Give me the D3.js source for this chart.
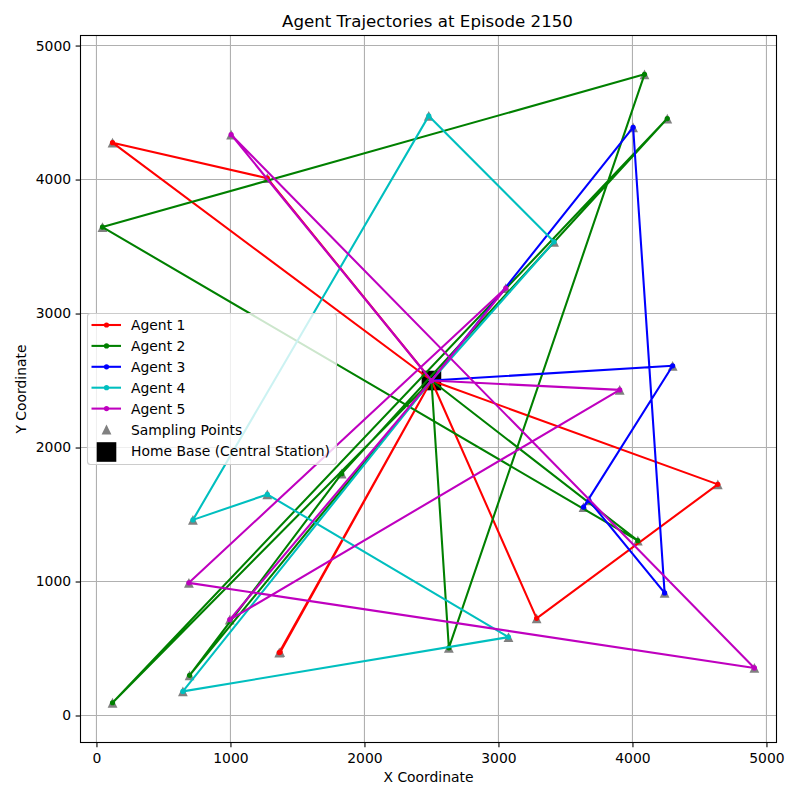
<!DOCTYPE html>
<html>
<head>
<meta charset="utf-8">
<script src="https://cdn.jsdelivr.net/npm/d3@7"></script>
<style>
  html, body { margin: 0; padding: 0; background: #fff; }
  text { font-family: "DejaVu Sans", sans-serif; fill: #000; }
</style>
</head>
<body>
<div id="chart"></div>
<script>
const home = [2500, 2500];
const agentNames = ['Agent 1', 'Agent 2', 'Agent 3', 'Agent 4', 'Agent 5'];
const agentColors = ['#ff0000', '#008000', '#0000ff', '#00bfbf', '#bf00bf'];

const agent1 = [home, [1364, 470], [1371, 473], home, [120, 4275], [1275, 4010], home, [4637, 1725], [3285, 725], home];
const agent2 = [home, [2630, 505], [4090, 4785], [45, 3645], [4040, 1305], home, [120, 95], [4260, 4455], [1830, 1805], [695, 300], home];
const agent3 = [home, [4300, 2610], [3635, 1555], [3675, 1605], [4240, 915], [4005, 4390], home];
const agent4 = [home, [3415, 3535], [2480, 4475], [720, 1460], [1275, 1650], [3075, 585], [645, 180], home];
const agent5 = [home, [3055, 3190], [690, 990], [4910, 355], [1005, 4335], home, [995, 715], [3905, 2430], home];
const agentPaths = [agent1, agent2, agent3, agent4, agent5];

const xTicks = [0, 1000, 2000, 3000, 4000, 5000];
const yTicks = [0, 1000, 2000, 3000, 4000, 5000];

const width = 800;
const height = 800;
const plot = { left: 80.5, right: 776.5, top: 35.5, bottom: 742.5 };

const svg = d3.select('#chart').append('svg')
  .attr('width', width)
  .attr('height', height)
  .attr('viewBox', `0 0 ${width} ${height}`)
  .style('display', 'block');

const x = d3.scaleLinear().domain([-119, 5075]).range([plot.left, plot.right]);
const y = d3.scaleLinear().domain([-201.5, 5075]).range([plot.bottom, plot.top]);

// grid goes first, everything else sits on it
svg.append('g').selectAll('line').data(xTicks).join('line')
  .attr('x1', (d) => x(d)).attr('x2', (d) => x(d))
  .attr('y1', plot.top).attr('y2', plot.bottom)
  .attr('stroke', '#b0b0b0').attr('stroke-width', 1.1);
svg.append('g').selectAll('line').data(yTicks).join('line')
  .attr('y1', (d) => y(d)).attr('y2', (d) => y(d))
  .attr('x1', plot.left).attr('x2', plot.right)
  .attr('stroke', '#b0b0b0').attr('stroke-width', 1.1);

const triangle = (size) => `M0,${-size / 2}L${-size / 2},${size / 2}L${size / 2},${size / 2}Z`;
const triangleSize = 9.8;
const homeSize = 19.6;
const dotRadius = 2.6;

// sampling points, every stop except the base
const samples = agentPaths.flat().filter((p) => p !== home);
svg.append('g').selectAll('path').data(samples).join('path')
  .attr('d', triangle(triangleSize))
  .attr('transform', (d) => `translate(${x(d[0])},${y(d[1])})`)
  .attr('fill', '#808080');

svg.append('rect')
  .attr('x', x(home[0]) - homeSize / 2)
  .attr('y', y(home[1]) - homeSize / 2)
  .attr('width', homeSize)
  .attr('height', homeSize)
  .attr('fill', '#000');

const lineGen = d3.line().x((d) => x(d[0])).y((d) => y(d[1]));
agentPaths.forEach((path, i) => {
  const g = svg.append('g');
  g.append('path')
    .attr('d', lineGen(path))
    .attr('fill', 'none')
    .attr('stroke', agentColors[i])
    .attr('stroke-width', 2.08)
    .attr('stroke-linejoin', 'round');
  g.selectAll('circle').data(path).join('circle')
    .attr('cx', (d) => x(d[0]))
    .attr('cy', (d) => y(d[1]))
    .attr('r', dotRadius)
    .attr('fill', agentColors[i]);
});

// axes
const xAxis = d3.axisBottom(x).tickValues(xTicks).tickSize(4.86).tickPadding(5.5).tickFormat(d3.format('d'));
const yAxis = d3.axisLeft(y).tickValues(yTicks).tickSize(4.86).tickPadding(4.5).tickFormat(d3.format('d'));
const xG = svg.append('g').attr('transform', `translate(0,${plot.bottom})`).call(xAxis);
const yG = svg.append('g').attr('transform', `translate(${plot.left},0)`).call(yAxis);
[xG, yG].forEach((g) => {
  g.select('.domain').remove();
  g.selectAll('text').style('font-size', '13.9px');
  g.selectAll('line').attr('stroke', '#000').attr('stroke-width', 1.1);
});

svg.append('rect')
  .attr('x', plot.left)
  .attr('y', plot.top)
  .attr('width', plot.right - plot.left)
  .attr('height', plot.bottom - plot.top)
  .attr('fill', 'none')
  .attr('stroke', '#000')
  .attr('stroke-width', 1.1);

svg.append('text')
  .attr('x', 427.5).attr('y', 27)
  .attr('text-anchor', 'middle').style('font-size', '16.67px')
  .text('Agent Trajectories at Episode 2150');
svg.append('text')
  .attr('x', 428.5).attr('y', 782)
  .attr('text-anchor', 'middle').style('font-size', '13.9px')
  .text('X Coordinate');
svg.append('text')
  .attr('transform', `translate(26,${(plot.top + plot.bottom) / 2}) rotate(-90)`)
  .attr('text-anchor', 'middle').style('font-size', '13.9px')
  .text('Y Coordinate');

// legend
const legend = svg.append('g');
legend.append('rect')
  .attr('x', 87.5).attr('y', 313.5)
  .attr('width', 249).attr('height', 151)
  .attr('rx', 3)
  .attr('fill', '#fff').attr('fill-opacity', 0.8)
  .attr('stroke', '#ccc').attr('stroke-width', 1.1);

const legendRowY = (i) => 325 + i * 20.9;
agentNames.forEach((name, i) => {
  legend.append('line')
    .attr('x1', 91.5).attr('x2', 121)
    .attr('y1', legendRowY(i)).attr('y2', legendRowY(i))
    .attr('stroke', agentColors[i]).attr('stroke-width', 2.08);
  legend.append('circle')
    .attr('cx', 106.5).attr('cy', legendRowY(i)).attr('r', dotRadius)
    .attr('fill', agentColors[i]);
  legend.append('text')
    .attr('x', 131).attr('y', legendRowY(i) + 5)
    .style('font-size', '13.9px').text(name);
});
legend.append('path')
  .attr('d', triangle(triangleSize))
  .attr('transform', `translate(106.5,${legendRowY(5)})`)
  .attr('fill', '#808080');
legend.append('text')
  .attr('x', 131).attr('y', legendRowY(5) + 5)
  .style('font-size', '13.9px').text('Sampling Points');
legend.append('rect')
  .attr('x', 106.5 - homeSize / 2).attr('y', 452 - homeSize / 2)
  .attr('width', homeSize).attr('height', homeSize)
  .attr('fill', '#000');
legend.append('text')
  .attr('x', 131).attr('y', 456)
  .style('font-size', '13.9px').text('Home Base (Central Station)');
</script>
</body>
</html>
